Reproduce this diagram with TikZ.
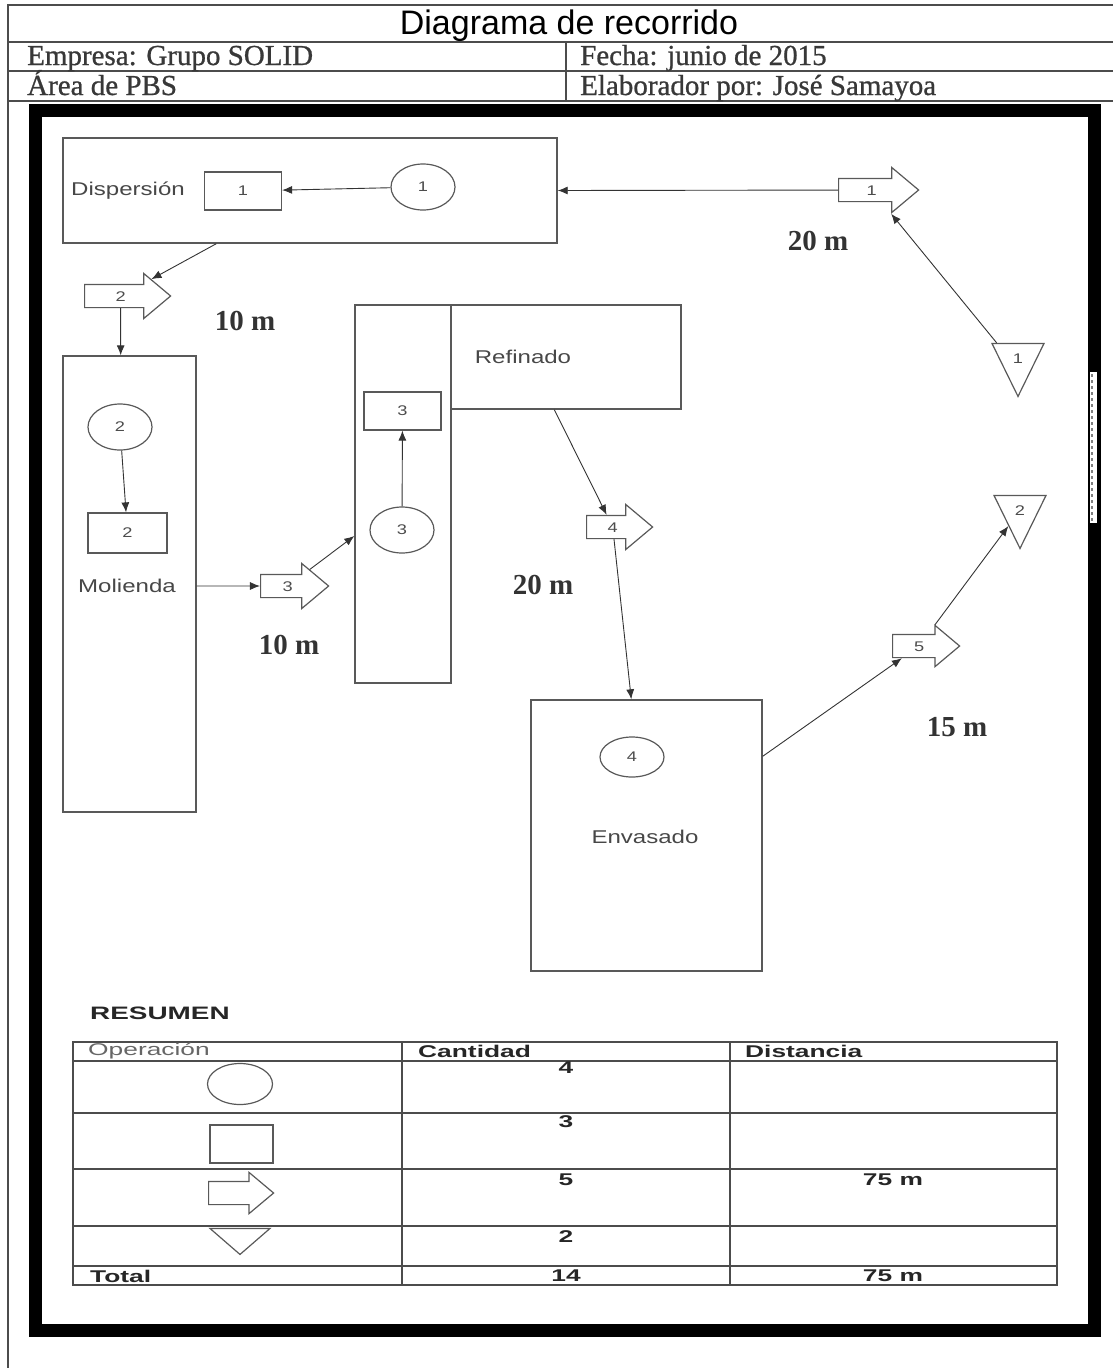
\documentclass[tikz,border=0pt]{standalone}
\usepackage{fontspec}
\setmainfont{Liberation Serif}
\newfontfamily\hdrfont[FakeBold=0.8]{Liberation Serif}
\newfontfamily\arial{Liberation Sans}
\newfontfamily\arialw[FakeStretch=1.3]{Liberation Sans}
\newfontfamily\arialt[FakeStretch=1.55]{Liberation Sans}
\usepackage{tikz}
\usetikzlibrary{arrows.meta, positioning, shapes.geometric, shapes.arrows, calc}

\begin{document}
\begin{tikzpicture}[x=1pt, y=-1pt,
  area/.style={rectangle, draw=gray!70!black, line width=1.4pt, inner sep=0pt},
  lbl/.style={font=\arialw\fontsize{18.5}{18.5}\selectfont, text=black!72, inner sep=1pt},
  opc/.style={ellipse, draw=gray!70!black, line width=1.2pt, inner sep=0pt,
              minimum width=64, minimum height=46,
              font=\arialw\fontsize{14}{14}\selectfont, text=black!70},
  insp/.style={rectangle, draw=gray!70!black, line width=1.2pt, inner sep=0pt,
               minimum width=77, minimum height=38,
               font=\arialw\fontsize{14}{14}\selectfont, text=black!70},
  trans/.style={single arrow, draw=gray!70!black, line width=1.2pt, fill=white,
                inner xsep=0pt, inner ysep=6pt, text height=10pt, text depth=0pt,
                minimum width=44, minimum height=#1,
                single arrow head extend=11, single arrow tip angle=80,
                anchor=tail, font=\arialw\fontsize{14}{14}\selectfont, text=black!70},
  store/.style={isosceles triangle, shape border rotate=-90, isosceles triangle stretches,
                draw=gray!70!black, line width=1.2pt, inner sep=0pt,
                minimum width=52, minimum height=53, anchor=apex,
                font=\arialw\fontsize{14}{14}\selectfont, text=black!70},
  dist/.style={font=\bfseries\fontsize{29}{29}\selectfont, text=black!80},
  hdr/.style={draw=black!70, line width=1.2pt},
  hdrtxt/.style={anchor=base west, inner sep=0pt, font=\hdrfont\fontsize{29}{29}\selectfont, text=black!78},
  grid/.style={draw=gray!60!black, line width=1.8pt},
  tbl/.style={inner sep=0pt, font=\arialt\bfseries\fontsize{17}{17}\selectfont, text=black!85},
  arr/.style={-{Latex[length=10pt, width=8pt]}, draw=black!80, line width=0.9pt}
]
\useasboundingbox (0,0) rectangle (1113,1368);
%% header table
\draw[hdr] (8,1368) -- (8,5) -- (1113,5);
\draw[hdr] (8,42) -- (1113,42) (8,71) -- (1113,71) (8,101) -- (1113,101)
           (566,42) -- (566,101);
\node[font=\arial\fontsize{34}{34}\selectfont] (titulo) at (569,26) {Diagrama de recorrido};
\node[hdrtxt] (empresa) at (27,65) {Empresa: Grupo SOLID};
\node[hdrtxt] (fecha)   at (580,65) {Fecha: junio de 2015};
\node[hdrtxt] (area)    at (27,95) {Área de PBS};
\node[hdrtxt] (autor)   at (580,95) {Elaborador por: José Samayoa};
%% thick frame
\draw[line width=13pt] (35,110) rectangle (1094,1330);
\fill[white] (1090,372) rectangle (1097,523);
\draw[gray, dashed, line width=1.5pt] (1092,374) -- (1092,521);

%% areas (px coordinates, y down)
\node[area, minimum width=494, minimum height=105] (disp) at (310,190.5) {};
\node[area, minimum width=133, minimum height=456] (mol)  at (129.5,584) {};
\node[area, minimum width=96,  minimum height=378] (refv) at (403,494) {};
\node[area, minimum width=230, minimum height=104] (refh) at (566,357) {};
\node[area, minimum width=231, minimum height=271] (env)  at (646.5,835.5) {};
\node[lbl] (l_disp) at (128,191) {Dispersión};
\node[lbl] (l_mol)  at (127,586) {Molienda};
\node[lbl] (l_ref)  at (523,357) {Refinado};
\node[lbl] (l_env)  at (645,837) {Envasado};

%% operations / inspections
\node[opc]  (c1) at (423,187) {1};
\node[insp] (r1) at (243,191) {1};
\node[opc]  (c2) at (120,427) {2};
\node[insp, minimum width=79, minimum height=40] (r2) at (127.5,533) {2};
\node[insp] (r3) at (402.5,411) {3};
\node[opc]  (c3) at (402,530) {3};
\node[opc, minimum height=40] (c4) at (632,757) {4};

%% transports and storages
\node[trans=80] (a1) at (838,190) {1};
\node[trans=86] (a2) at (84,296) {2};
\node[trans=68] (a3) at (260,586) {3};
\node[trans=66] (a4) at (586,527) {4};
\node[trans=67, minimum width=38, single arrow head extend=9] (a5) at (892,646) {5};
\node[store] (t1) at (1018,398) {1};
\node[store] (t2) at (1020,550) {2};

%% distances
\node[dist] (d1) at (818,241) {20 m};
\node[dist] (d2) at (245,321) {10 m};
\node[dist] (d3) at (289,645) {10 m};
\node[dist] (d4) at (543,585) {20 m};
\node[dist] (d5) at (957,727) {15 m};

%% flow
\draw[arr] (c1) -- (r1);
\draw[arr] (a1) -- (disp.east);
\draw[arr] (t1.144) -- (a1);
\draw[arr] ($(disp.south west)+(154,0)$) -- (a2);
\draw[arr] (a2) -- (mol.north -| a2.center);
\draw[arr] (c2) -- (r2);
\draw[arr] (mol.east |- a3.center) -- (a3);
\draw[arr] (a3) -- ($(refv.west)+(0,42)$);
\draw[arr] (c3) -- (r3);
\draw[arr] ($(refh.south west)+(104,0)$) -- (a4);
\draw[arr] (a4) -- ($(env.north west)+(101,0)$);
\draw[arr] ($(env.north east)+(0,57)$) -- (a5);
\draw[arr] (a5) -- (t2);

%% summary table
\node[tbl, anchor=west, font=\arialt\bfseries\fontsize{18}{18}\selectfont] (resumen) at (90,1013) {RESUMEN};
\draw[grid] (73,1042) rectangle (1057,1285);
\foreach \yy in {1061,1113,1169,1226,1266}
  \draw[grid] (73,\yy) -- (1057,\yy);
\foreach \xx in {402,730}
  \draw[grid] (\xx,1042) -- (\xx,1285);
\node[tbl, anchor=west, font=\arialt\fontsize{17}{17}\selectfont, text=black!60] (h_op) at (88,1051) {Operación};
\node[tbl, anchor=west] (h_cant) at (418,1051) {Cantidad};
\node[tbl, anchor=west] (h_dist) at (745,1051) {Distancia};
\node[opc, minimum width=65, minimum height=41] (s_opc) at (240,1084) {};
\node[insp, minimum width=63, minimum height=38] (s_insp) at (241.5,1144) {};
\node[trans=65, inner ysep=0pt, text height=22pt, minimum width=40, single arrow head extend=9] (s_trans) at (208,1193) {};
\node[store, minimum width=60, minimum height=26] (s_store) at (240,1256) {};
\node[tbl] (n_opc)   at (566,1068) {4};
\node[tbl] (n_insp)  at (566,1122) {3};
\node[tbl] (n_trans) at (566,1180) {5};
\node[tbl] (m_trans) at (893,1180) {75 m};
\node[tbl] (n_store) at (566,1237) {2};
\node[tbl, anchor=west] (total) at (90,1276) {Total};
\node[tbl] (n_total) at (566,1276) {14};
\node[tbl] (m_total) at (893,1276) {75 m};
\end{tikzpicture}
\end{document}
